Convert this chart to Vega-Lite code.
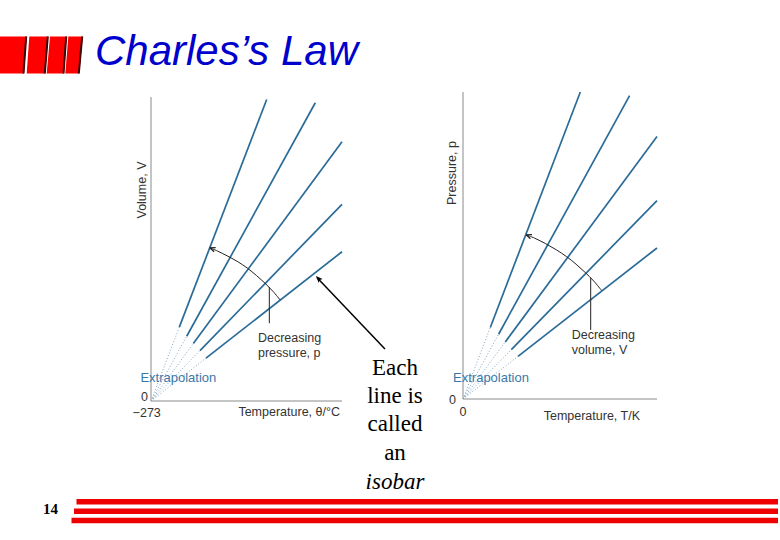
{
  "$schema": "https://vega.github.io/schema/vega-lite/v6.json",
  "width": 780,
  "height": 540,
  "padding": 0,
  "autosize": "none",
  "background": "white",
  "config": {
    "view": {"stroke": null},
    "axis": {"disable": true},
    "legend": {"disable": true},
    "text": {"font": "Liberation Sans"}
  },
  "datasets": {
    "isobarsC": [
      {"isobar": "p1", "t_zero": -273, "V_zero": 0, "t_start": -213.7, "V_start": 24.3, "t_end": -30.7, "V_end": 99.2},
      {"isobar": "p2", "t_zero": -273, "V_zero": 0, "t_start": -198.2, "V_start": 21.3, "t_end": 71.1, "V_end": 98.1},
      {"isobar": "p3", "t_zero": -273, "V_zero": 0, "t_start": -184.4, "V_start": 18.9, "t_end": 127, "V_end": 85.3},
      {"isobar": "p4", "t_zero": -273, "V_zero": 0, "t_start": -170.4, "V_start": 16.6, "t_end": 127, "V_end": 64.7},
      {"isobar": "p5", "t_zero": -273, "V_zero": 0, "t_start": -157.8, "V_start": 14.1, "t_end": 127, "V_end": 49.1}
    ],
    "isochoresK": [
      {"isochore": "V1", "T_zero": 0, "p_zero": 0, "T_start": 56.3, "p_start": 23.3, "T_end": 241.9, "p_end": 100},
      {"isochore": "V2", "T_zero": 0, "p_zero": 0, "T_start": 73.4, "p_start": 21.1, "T_end": 343.5, "p_end": 98.8},
      {"isochore": "V3", "T_zero": 0, "p_zero": 0, "T_start": 87.2, "p_start": 18.6, "T_end": 400, "p_end": 85.5},
      {"isochore": "V4", "T_zero": 0, "p_zero": 0, "T_start": 99.6, "p_start": 16.1, "T_end": 400, "p_end": 64.6},
      {"isochore": "V5", "T_zero": 0, "p_zero": 0, "T_start": 113.4, "p_start": 13.9, "T_end": 400, "p_end": 49.2}
    ],
    "arcC": [
      {"step": 0, "t": -2.4, "V": 33.2},
      {"step": 1, "t": -17.7, "V": 36.1},
      {"step": 2, "t": -34.5, "V": 38.8},
      {"step": 3, "t": -52.3, "V": 41.3},
      {"step": 4, "t": -71.1, "V": 43.7},
      {"step": 5, "t": -91.0, "V": 45.8},
      {"step": 6, "t": -111.7, "V": 47.6},
      {"step": 7, "t": -133.3, "V": 49.3},
      {"step": 8, "t": -149.9, "V": 50.4}
    ],
    "arcK": [
      {"step": 0, "T": 286.0, "p": 35.3},
      {"step": 1, "T": 269.7, "p": 38.4},
      {"step": 2, "T": 252.1, "p": 41.2},
      {"step": 3, "T": 233.2, "p": 43.9},
      {"step": 4, "T": 213.3, "p": 46.4},
      {"step": 5, "T": 192.4, "p": 48.6},
      {"step": 6, "T": 170.3, "p": 50.6},
      {"step": 7, "T": 147.6, "p": 52.4},
      {"step": 8, "T": 130.1, "p": 53.5}
    ]
  },
  "resolve": {"scale": {"x": "independent", "y": "independent"}},
  "layer": [
    {
      "layer": [
        {
          "data": {"values": [
            {"x0": -273, "y0": 0, "x1": -273, "y1": 100},
            {"x0": -273, "y0": 0, "x1": 127, "y1": 0}
          ]},
          "mark": {"type": "rule", "color": "#8a8a8a", "strokeWidth": 1},
          "encoding": {
            "x": {"field": "x0", "type": "quantitative", "scale": {"domain": [-273, 127], "range": [151, 342], "nice": false, "zero": false}},
            "y": {"field": "y0", "type": "quantitative", "scale": {"domain": [0, 100], "range": [401, 97], "nice": false, "zero": false}},
            "x2": {"field": "x1"},
            "y2": {"field": "y1"}
          }
        },
        {
          "data": {"name": "isobarsC"},
          "mark": {"type": "rule", "color": "#7fa6c6", "strokeWidth": 1, "strokeDash": [1, 2]},
          "encoding": {
            "x": {"field": "t_zero", "type": "quantitative", "scale": {"domain": [-273, 127], "range": [151, 342], "nice": false, "zero": false}},
            "y": {"field": "V_zero", "type": "quantitative", "scale": {"domain": [0, 100], "range": [401, 97], "nice": false, "zero": false}},
            "x2": {"field": "t_start"},
            "y2": {"field": "V_start"}
          }
        },
        {
          "data": {"name": "isobarsC"},
          "mark": {"type": "rule", "color": "#2a6b98", "strokeWidth": 1.7},
          "encoding": {
            "x": {"field": "t_start", "type": "quantitative", "scale": {"domain": [-273, 127], "range": [151, 342], "nice": false, "zero": false}},
            "y": {"field": "V_start", "type": "quantitative", "scale": {"domain": [0, 100], "range": [401, 97], "nice": false, "zero": false}},
            "x2": {"field": "t_end"},
            "y2": {"field": "V_end"}
          }
        },
        {
          "data": {"name": "arcC"},
          "mark": {"type": "line", "color": "#222222", "strokeWidth": 1, "interpolate": "cardinal"},
          "encoding": {
            "x": {"field": "t", "type": "quantitative", "scale": {"domain": [-273, 127], "range": [151, 342], "nice": false, "zero": false}},
            "y": {"field": "V", "type": "quantitative", "scale": {"domain": [0, 100], "range": [401, 97], "nice": false, "zero": false}},
            "order": {"field": "step", "type": "quantitative"}
          }
        },
        {
          "data": {"values": [{"t": -149.9, "V": 50.4}]},
          "mark": {"type": "point", "shape": "M 0 0 L 2 -0.8 M 0 0 L 2 0.8", "size": 30, "filled": false, "color": "#222222", "strokeWidth": 1.2, "angle": 21, "opacity": 1},
          "encoding": {
            "x": {"field": "t", "type": "quantitative", "scale": {"domain": [-273, 127], "range": [151, 342], "nice": false, "zero": false}},
            "y": {"field": "V", "type": "quantitative", "scale": {"domain": [0, 100], "range": [401, 97], "nice": false, "zero": false}}
          }
        },
        {
          "data": {"values": [{"t": -25.2, "V_top": 37.5, "V_bottom": 25.6}]},
          "mark": {"type": "rule", "color": "#222222", "strokeWidth": 1},
          "encoding": {
            "x": {"field": "t", "type": "quantitative", "scale": {"domain": [-273, 127], "range": [151, 342], "nice": false, "zero": false}},
            "y": {"field": "V_top", "type": "quantitative", "scale": {"domain": [0, 100], "range": [401, 97], "nice": false, "zero": false}},
            "y2": {"field": "V_bottom"}
          }
        },
        {
          "data": {"values": [
            {"label": "Decreasing", "t": -49, "V": 20.6},
            {"label": "pressure, p", "t": -49, "V": 15.7}
          ]},
          "mark": {"type": "text", "align": "left", "baseline": "middle", "fontSize": 12.5, "color": "#333333"},
          "encoding": {
            "x": {"field": "t", "type": "quantitative", "scale": {"domain": [-273, 127], "range": [151, 342], "nice": false, "zero": false}},
            "y": {"field": "V", "type": "quantitative", "scale": {"domain": [0, 100], "range": [401, 97], "nice": false, "zero": false}},
            "text": {"field": "label"}
          }
        },
        {
          "data": {"values": [{"label": "Extrapolation", "t": -215.8, "V": 7.5}]},
          "mark": {"type": "text", "align": "center", "baseline": "middle", "fontSize": 13, "color": "#3a78a8"},
          "encoding": {
            "x": {"field": "t", "type": "quantitative", "scale": {"domain": [-273, 127], "range": [151, 342], "nice": false, "zero": false}},
            "y": {"field": "V", "type": "quantitative", "scale": {"domain": [0, 100], "range": [401, 97], "nice": false, "zero": false}},
            "text": {"field": "label"}
          }
        },
        {
          "data": {"values": [
            {"label": "0", "t": -279.3, "V": 1.3},
            {"label": "Temperature, θ/°C", "t": 122.8, "V": -3.6}
          ]},
          "mark": {"type": "text", "align": "right", "baseline": "middle", "fontSize": 12.5, "color": "#333333"},
          "encoding": {
            "x": {"field": "t", "type": "quantitative", "scale": {"domain": [-273, 127], "range": [151, 342], "nice": false, "zero": false}},
            "y": {"field": "V", "type": "quantitative", "scale": {"domain": [0, 100], "range": [401, 97], "nice": false, "zero": false}},
            "text": {"field": "label"}
          }
        },
        {
          "data": {"values": [{"label": "−273", "t": -282, "V": -4.0}]},
          "mark": {"type": "text", "align": "center", "baseline": "middle", "fontSize": 12.5, "color": "#333333"},
          "encoding": {
            "x": {"field": "t", "type": "quantitative", "scale": {"domain": [-273, 127], "range": [151, 342], "nice": false, "zero": false}},
            "y": {"field": "V", "type": "quantitative", "scale": {"domain": [0, 100], "range": [401, 97], "nice": false, "zero": false}},
            "text": {"field": "label"}
          }
        },
        {
          "data": {"values": [{"label": "Volume, V", "t": -292.5, "V": 69.4}]},
          "mark": {"type": "text", "align": "center", "baseline": "middle", "fontSize": 12.5, "color": "#333333", "angle": 270},
          "encoding": {
            "x": {"field": "t", "type": "quantitative", "scale": {"domain": [-273, 127], "range": [151, 342], "nice": false, "zero": false}},
            "y": {"field": "V", "type": "quantitative", "scale": {"domain": [0, 100], "range": [401, 97], "nice": false, "zero": false}},
            "text": {"field": "label"}
          }
        },
        {
          "data": {"values": [{"t_from": 217, "V_from": 17.1, "t_to": 74.5, "V_to": 40.6}]},
          "mark": {"type": "rule", "color": "#000000", "strokeWidth": 1.5},
          "encoding": {
            "x": {"field": "t_from", "type": "quantitative", "scale": {"domain": [-273, 127], "range": [151, 342], "nice": false, "zero": false}},
            "y": {"field": "V_from", "type": "quantitative", "scale": {"domain": [0, 100], "range": [401, 97], "nice": false, "zero": false}},
            "x2": {"field": "t_to"},
            "y2": {"field": "V_to"}
          }
        },
        {
          "data": {"values": [{"t": 72.5, "V": 41.1}]},
          "mark": {"type": "point", "shape": "M 0 0 L 3 -1.2 L 2.5 0 L 3 1.2 Z", "size": 20, "filled": true, "color": "#000000", "angle": 46.6, "opacity": 1},
          "encoding": {
            "x": {"field": "t", "type": "quantitative", "scale": {"domain": [-273, 127], "range": [151, 342], "nice": false, "zero": false}},
            "y": {"field": "V", "type": "quantitative", "scale": {"domain": [0, 100], "range": [401, 97], "nice": false, "zero": false}}
          }
        },
        {
          "data": {"values": [
            {"word": "Each", "t": 238, "V": 11.0},
            {"word": "line is", "t": 238, "V": 1.6},
            {"word": "called", "t": 238, "V": -7.7},
            {"word": "an", "t": 238, "V": -17.1}
          ]},
          "mark": {"type": "text", "align": "center", "baseline": "middle", "font": "Liberation Serif", "fontSize": 23, "color": "#000000"},
          "encoding": {
            "x": {"field": "t", "type": "quantitative", "scale": {"domain": [-273, 127], "range": [151, 342], "nice": false, "zero": false}},
            "y": {"field": "V", "type": "quantitative", "scale": {"domain": [0, 100], "range": [401, 97], "nice": false, "zero": false}},
            "text": {"field": "word"}
          }
        },
        {
          "data": {"values": [{"word": "isobar", "t": 238, "V": -26.5}]},
          "mark": {"type": "text", "align": "center", "baseline": "middle", "font": "Liberation Serif", "fontSize": 23, "fontStyle": "italic", "color": "#000000"},
          "encoding": {
            "x": {"field": "t", "type": "quantitative", "scale": {"domain": [-273, 127], "range": [151, 342], "nice": false, "zero": false}},
            "y": {"field": "V", "type": "quantitative", "scale": {"domain": [0, 100], "range": [401, 97], "nice": false, "zero": false}},
            "text": {"field": "word"}
          }
        }
      ]
    },
    {
      "layer": [
        {
          "data": {"values": [
            {"x0": 0, "y0": 0, "x1": 0, "y1": 100},
            {"x0": 0, "y0": 0, "x1": 400, "y1": 0}
          ]},
          "mark": {"type": "rule", "color": "#8a8a8a", "strokeWidth": 1},
          "encoding": {
            "x": {"field": "x0", "type": "quantitative", "scale": {"domain": [0, 400], "range": [463, 657], "nice": false, "zero": false}},
            "y": {"field": "y0", "type": "quantitative", "scale": {"domain": [0, 100], "range": [399, 92], "nice": false, "zero": false}},
            "x2": {"field": "x1"},
            "y2": {"field": "y1"}
          }
        },
        {
          "data": {"name": "isochoresK"},
          "mark": {"type": "rule", "color": "#7fa6c6", "strokeWidth": 1, "strokeDash": [1, 2]},
          "encoding": {
            "x": {"field": "T_zero", "type": "quantitative", "scale": {"domain": [0, 400], "range": [463, 657], "nice": false, "zero": false}},
            "y": {"field": "p_zero", "type": "quantitative", "scale": {"domain": [0, 100], "range": [399, 92], "nice": false, "zero": false}},
            "x2": {"field": "T_start"},
            "y2": {"field": "p_start"}
          }
        },
        {
          "data": {"name": "isochoresK"},
          "mark": {"type": "rule", "color": "#2a6b98", "strokeWidth": 1.7},
          "encoding": {
            "x": {"field": "T_start", "type": "quantitative", "scale": {"domain": [0, 400], "range": [463, 657], "nice": false, "zero": false}},
            "y": {"field": "p_start", "type": "quantitative", "scale": {"domain": [0, 100], "range": [399, 92], "nice": false, "zero": false}},
            "x2": {"field": "T_end"},
            "y2": {"field": "p_end"}
          }
        },
        {
          "data": {"name": "arcK"},
          "mark": {"type": "line", "color": "#222222", "strokeWidth": 1, "interpolate": "cardinal"},
          "encoding": {
            "x": {"field": "T", "type": "quantitative", "scale": {"domain": [0, 400], "range": [463, 657], "nice": false, "zero": false}},
            "y": {"field": "p", "type": "quantitative", "scale": {"domain": [0, 100], "range": [399, 92], "nice": false, "zero": false}},
            "order": {"field": "step", "type": "quantitative"}
          }
        },
        {
          "data": {"values": [{"T": 130.1, "p": 53.5}]},
          "mark": {"type": "point", "shape": "M 0 0 L 2 -0.8 M 0 0 L 2 0.8", "size": 30, "filled": false, "color": "#222222", "strokeWidth": 1.2, "angle": 21, "opacity": 1},
          "encoding": {
            "x": {"field": "T", "type": "quantitative", "scale": {"domain": [0, 400], "range": [463, 657], "nice": false, "zero": false}},
            "y": {"field": "p", "type": "quantitative", "scale": {"domain": [0, 100], "range": [399, 92], "nice": false, "zero": false}}
          }
        },
        {
          "data": {"values": [{"T": 263.3, "p_top": 39.5, "p_bottom": 22.5}]},
          "mark": {"type": "rule", "color": "#222222", "strokeWidth": 1},
          "encoding": {
            "x": {"field": "T", "type": "quantitative", "scale": {"domain": [0, 400], "range": [463, 657], "nice": false, "zero": false}},
            "y": {"field": "p_top", "type": "quantitative", "scale": {"domain": [0, 100], "range": [399, 92], "nice": false, "zero": false}},
            "y2": {"field": "p_bottom"}
          }
        },
        {
          "data": {"values": [
            {"label": "Decreasing", "T": 224.1, "p": 20.8},
            {"label": "volume, V", "T": 224.1, "p": 16.0}
          ]},
          "mark": {"type": "text", "align": "left", "baseline": "middle", "fontSize": 12.5, "color": "#333333"},
          "encoding": {
            "x": {"field": "T", "type": "quantitative", "scale": {"domain": [0, 400], "range": [463, 657], "nice": false, "zero": false}},
            "y": {"field": "p", "type": "quantitative", "scale": {"domain": [0, 100], "range": [399, 92], "nice": false, "zero": false}},
            "text": {"field": "label"}
          }
        },
        {
          "data": {"values": [{"label": "Extrapolation", "T": 57.7, "p": 6.7}]},
          "mark": {"type": "text", "align": "center", "baseline": "middle", "fontSize": 13, "color": "#3a78a8"},
          "encoding": {
            "x": {"field": "T", "type": "quantitative", "scale": {"domain": [0, 400], "range": [463, 657], "nice": false, "zero": false}},
            "y": {"field": "p", "type": "quantitative", "scale": {"domain": [0, 100], "range": [399, 92], "nice": false, "zero": false}},
            "text": {"field": "label"}
          }
        },
        {
          "data": {"values": [
            {"label": "0", "T": -14.4, "p": -0.3},
            {"label": "Temperature, T/K", "T": 365, "p": -5.5}
          ]},
          "mark": {"type": "text", "align": "right", "baseline": "middle", "fontSize": 12.5, "color": "#333333"},
          "encoding": {
            "x": {"field": "T", "type": "quantitative", "scale": {"domain": [0, 400], "range": [463, 657], "nice": false, "zero": false}},
            "y": {"field": "p", "type": "quantitative", "scale": {"domain": [0, 100], "range": [399, 92], "nice": false, "zero": false}},
            "text": {"field": "label"}
          }
        },
        {
          "data": {"values": [{"label": "0", "T": 0, "p": -4.3}]},
          "mark": {"type": "text", "align": "center", "baseline": "middle", "fontSize": 12.5, "color": "#333333"},
          "encoding": {
            "x": {"field": "T", "type": "quantitative", "scale": {"domain": [0, 400], "range": [463, 657], "nice": false, "zero": false}},
            "y": {"field": "p", "type": "quantitative", "scale": {"domain": [0, 100], "range": [399, 92], "nice": false, "zero": false}},
            "text": {"field": "label"}
          }
        },
        {
          "data": {"values": [{"label": "Pressure, p", "T": -23.3, "p": 73.6}]},
          "mark": {"type": "text", "align": "center", "baseline": "middle", "fontSize": 12.5, "color": "#333333", "angle": 270},
          "encoding": {
            "x": {"field": "T", "type": "quantitative", "scale": {"domain": [0, 400], "range": [463, 657], "nice": false, "zero": false}},
            "y": {"field": "p", "type": "quantitative", "scale": {"domain": [0, 100], "range": [399, 92], "nice": false, "zero": false}},
            "text": {"field": "label"}
          }
        }
      ]
    },
    {
      "layer": [
        {
          "data": {"values": [
            {"bar": 1, "y": 36.5, "x_left": 0, "x_right": 26.7},
            {"bar": 1, "y": 73.5, "x_left": 0, "x_right": 24},
            {"bar": 2, "y": 36.5, "x_left": 29.3, "x_right": 48.3},
            {"bar": 2, "y": 73.5, "x_left": 26.7, "x_right": 45.3},
            {"bar": 3, "y": 36.5, "x_left": 50, "x_right": 66.7},
            {"bar": 3, "y": 73.5, "x_left": 46.7, "x_right": 64},
            {"bar": 4, "y": 36.5, "x_left": 68.3, "x_right": 82.7},
            {"bar": 4, "y": 73.5, "x_left": 65.3, "x_right": 79.3}
          ]},
          "mark": {"type": "area", "orient": "horizontal", "color": "#ff0000", "opacity": 1},
          "encoding": {
            "y": {"field": "y", "type": "quantitative", "scale": {"domain": [0, 540], "range": [0, 540], "nice": false, "zero": false}},
            "x": {"field": "x_left", "type": "quantitative", "scale": {"domain": [0, 780], "range": [0, 780], "nice": false, "zero": false}},
            "x2": {"field": "x_right"},
            "detail": {"field": "bar", "type": "nominal"}
          }
        },
        {
          "data": {"values": [
            {"bar": 1, "x_top": 26.2, "x_bottom": 23.5, "y_top": 36.5, "y_bottom": 73.5},
            {"bar": 2, "x_top": 47.8, "x_bottom": 44.8, "y_top": 36.5, "y_bottom": 73.5},
            {"bar": 3, "x_top": 66.2, "x_bottom": 63.5, "y_top": 36.5, "y_bottom": 73.5},
            {"bar": 4, "x_top": 82.2, "x_bottom": 78.8, "y_top": 36.5, "y_bottom": 73.5}
          ]},
          "mark": {"type": "rule", "color": "#3a0000", "strokeWidth": 2},
          "encoding": {
            "x": {"field": "x_top", "type": "quantitative", "scale": {"domain": [0, 780], "range": [0, 780], "nice": false, "zero": false}},
            "x2": {"field": "x_bottom"},
            "y": {"field": "y_top", "type": "quantitative", "scale": {"domain": [0, 540], "range": [0, 540], "nice": false, "zero": false}},
            "y2": {"field": "y_bottom"}
          }
        },
        {
          "data": {"values": [{"label": "Charles’s Law", "x": 95, "y": 65}]},
          "mark": {"type": "text", "align": "left", "baseline": "alphabetic", "font": "Liberation Sans", "fontSize": 42, "fontStyle": "italic", "color": "#0000cc"},
          "encoding": {
            "x": {"field": "x", "type": "quantitative", "scale": {"domain": [0, 780], "range": [0, 780], "nice": false, "zero": false}},
            "y": {"field": "y", "type": "quantitative", "scale": {"domain": [0, 540], "range": [0, 540], "nice": false, "zero": false}},
            "text": {"field": "label"}
          }
        },
        {
          "data": {"values": [{"label": "14", "x": 50.5, "y": 508.5}]},
          "mark": {"type": "text", "align": "center", "baseline": "middle", "font": "Liberation Serif", "fontSize": 15, "fontWeight": "bold", "color": "#000000"},
          "encoding": {
            "x": {"field": "x", "type": "quantitative", "scale": {"domain": [0, 780], "range": [0, 780], "nice": false, "zero": false}},
            "y": {"field": "y", "type": "quantitative", "scale": {"domain": [0, 540], "range": [0, 540], "nice": false, "zero": false}},
            "text": {"field": "label"}
          }
        },
        {
          "data": {"values": [
            {"stripe": 1, "y": 501.7, "x_start": 76.5, "x_end": 778},
            {"stripe": 2, "y": 511.2, "x_start": 74, "x_end": 778},
            {"stripe": 3, "y": 520.5, "x_start": 71.5, "x_end": 778}
          ]},
          "mark": {"type": "rule", "color": "#ee0000", "strokeWidth": 5.5, "strokeCap": "butt"},
          "encoding": {
            "x": {"field": "x_start", "type": "quantitative", "scale": {"domain": [0, 780], "range": [0, 780], "nice": false, "zero": false}},
            "x2": {"field": "x_end"},
            "y": {"field": "y", "type": "quantitative", "scale": {"domain": [0, 540], "range": [0, 540], "nice": false, "zero": false}}
          }
        }
      ]
    }
  ]
}
